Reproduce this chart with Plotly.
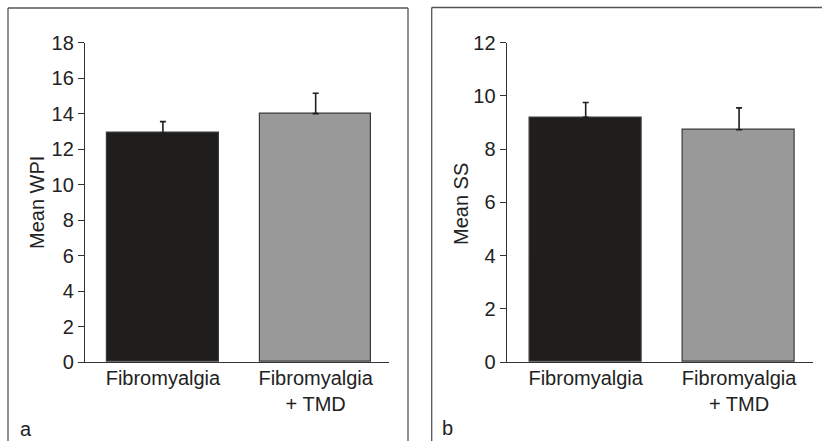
import plotly.graph_objects as go

W, H = 822, 441

categories = ["Fibromyalgia", "Fibromyalgia<br>+ TMD"]
wpi_means = [12.9, 14.0]
wpi_se = [0.65, 1.15]
ss_means = [9.2, 8.73]
ss_se = [0.55, 0.82]
bar_colors = ["#1f1e1c", "#999999"]
wpi_ticks = [0, 2, 4, 6, 8, 10, 12, 14, 16, 18]
ss_ticks = [0, 2, 4, 6, 8, 10, 12]

FONT = "Liberation Sans, Arial, Helvetica, sans-serif"
FS = 20

def px_x(p):
    return p / W

def px_y(p):
    return 1 - p / H

fig = go.Figure()

err_style = dict(type="data", symmetric=False, arrayminus=[0, 0], color="#1f1e1c",
                 thickness=1.6, width=3)

fig.add_trace(go.Bar(
    x=[0, 1], y=wpi_means, width=0.73,
    marker=dict(color=bar_colors, line=dict(color="#3a3a3a", width=1.2)),
    error_y=dict(array=wpi_se, **err_style),
    xaxis="x", yaxis="y", showlegend=False,
))
fig.add_trace(go.Bar(
    x=[0, 1], y=ss_means, width=0.73,
    marker=dict(color=bar_colors, line=dict(color="#3a3a3a", width=1.2)),
    error_y=dict(array=ss_se, **err_style),
    xaxis="x2", yaxis="y2", showlegend=False,
))

ydom = [px_y(362), px_y(42.7)]
xaxis_common = dict(
    tickmode="array", tickvals=[0, 1], ticktext=categories, ticks="",
    showline=True, linecolor="#333333", linewidth=1.3, showgrid=False,
    zeroline=False, tickfont=dict(family=FONT, size=FS, color="#222222"),
    automargin=False, ticklabelstandoff=-2,
)
yaxis_common = dict(
    ticks="outside", ticklen=6, tickwidth=1.2, tickcolor="#333333",
    showline=True, linecolor="#333333", linewidth=1.3, showgrid=False,
    zeroline=False, tickfont=dict(family=FONT, size=FS, color="#222222"),
    domain=ydom, automargin=False,
)

fig.update_layout(
    template="none",
    width=W, height=H,
    margin=dict(l=0, r=0, t=0, b=0, pad=0),
    paper_bgcolor="white", plot_bgcolor="white",
    xaxis=dict(domain=[px_x(85), px_x(389)], range=[-0.51, 1.48], anchor="y", **xaxis_common),
    yaxis=dict(range=[0, 18], tickvals=wpi_ticks, anchor="x", **yaxis_common),
    xaxis2=dict(domain=[px_x(506.7), px_x(812.7)], range=[-0.515, 1.48], anchor="y2", **xaxis_common),
    yaxis2=dict(range=[0, 12], tickvals=ss_ticks, anchor="x2", **yaxis_common),
    bargap=0,
    showlegend=False,
)

frame = dict(color="#555555", width=1.3)
shapes = [
    dict(type="line", xref="paper", yref="paper", x0=px_x(8), x1=px_x(8), y0=px_y(8), y1=0, line=frame),
    dict(type="line", xref="paper", yref="paper", x0=px_x(8), x1=px_x(408), y0=px_y(8), y1=px_y(8), line=frame),
    dict(type="line", xref="paper", yref="paper", x0=px_x(408), x1=px_x(408), y0=px_y(8), y1=0, line=frame),
    dict(type="line", xref="paper", yref="paper", x0=px_x(431.7), x1=px_x(431.7), y0=px_y(7.5), y1=0, line=frame),
    dict(type="line", xref="paper", yref="paper", x0=px_x(431.7), x1=1, y0=px_y(7.5), y1=px_y(7.5), line=frame),
]
fig.update_layout(shapes=shapes)

annots = [
    dict(text="Mean WPI", x=px_x(37), y=px_y(203), textangle=-90),
    dict(text="Mean SS", x=px_x(461), y=px_y(204), textangle=-90),
    dict(text="a", x=px_x(18), y=px_y(429), xanchor="left"),
    dict(text="b", x=px_x(440), y=px_y(428), xanchor="left"),
]
for a in annots:
    fig.add_annotation(xref="paper", yref="paper", showarrow=False,
                       font=dict(family=FONT, size=FS, color="#222222"),
                       yanchor="middle", xanchor=a.pop("xanchor", "center"), **a)

fig.write_html(
    "out.html",
    config={"displayModeBar": False},
    post_script="document.body.style.margin='0';document.body.style.overflow='hidden';",
)
